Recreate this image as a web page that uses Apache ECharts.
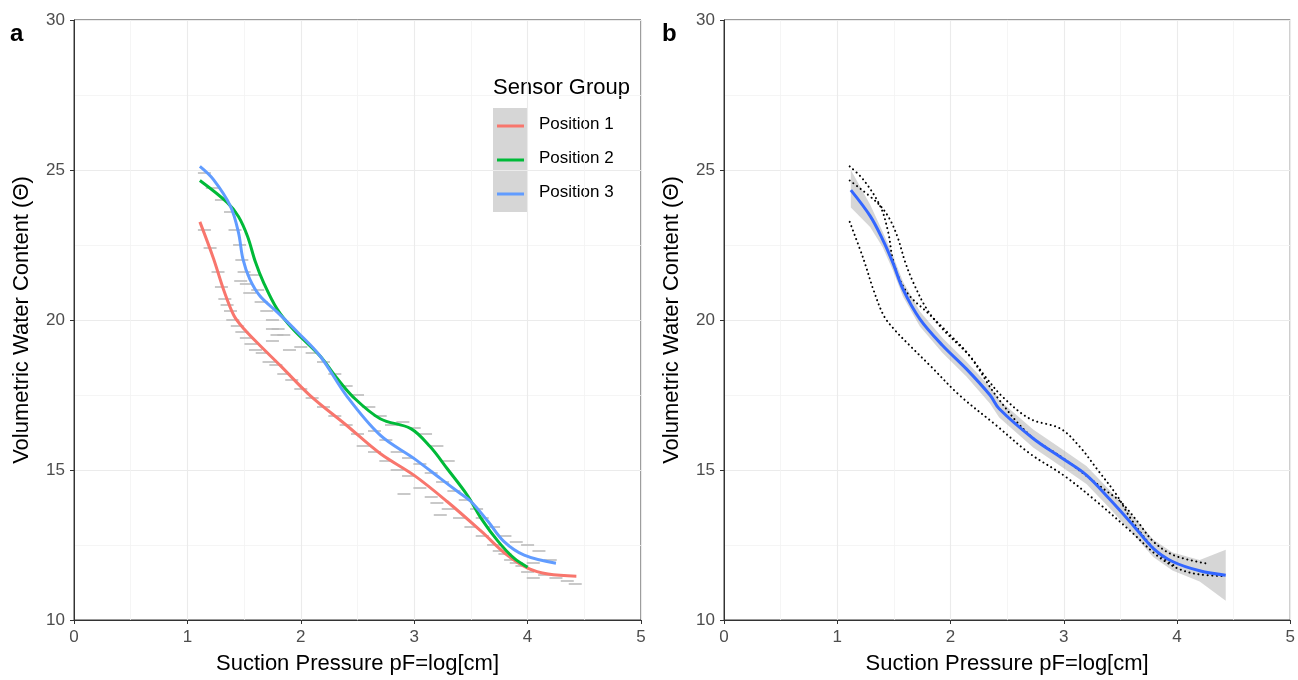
<!DOCTYPE html>
<html>
<head>
<meta charset="utf-8">
<script src="https://cdn.jsdelivr.net/npm/echarts@6/dist/echarts.min.js"></script>
<style>html,body{margin:0;padding:0;background:#fff}#c{width:1298px;height:680px}</style>
</head>
<body>
<div id="c"></div>
<script>
// ---- Data ----
const xTicks = [0, 1, 2, 3, 4, 5];
const yTicks = [10, 15, 20, 25, 30];
const seriesNames = ['Position 1', 'Position 2', 'Position 3'];

// Smoothed curves per sensor group
const p1X = [1.11,1.23,1.32,1.41,1.50,1.64,1.82,2.08,2.40,2.70,3.00,3.29,3.59,3.82,4.00,4.18,4.43];
const p1Y = [23.27,22.05,21.00,20.15,19.70,19.15,18.48,17.49,16.50,15.55,14.82,13.95,12.96,12.16,11.73,11.53,11.46];

const p2X = [1.11,1.35,1.45,1.53,1.60,1.67,1.79,1.93,2.17,2.31,2.46,2.70,2.97,3.14,3.29,3.47,3.59,3.74,3.88,4.00];
const p2Y = [24.65,23.92,23.45,22.79,21.93,21.26,20.37,19.70,18.80,18.10,17.44,16.71,16.38,15.78,15.05,14.15,13.39,12.62,12.06,11.76];

const p3X = [1.11,1.23,1.38,1.45,1.49,1.55,1.64,1.79,1.97,2.17,2.41,2.70,3.00,3.23,3.38,3.50,3.65,3.79,3.97,4.25];
const p3Y = [25.12,24.68,23.79,22.92,22.03,21.36,20.80,20.27,19.60,18.80,17.44,16.16,15.38,14.72,14.29,13.95,13.29,12.62,12.16,11.89];

// Raw measurements (grey marks)
const rawX = [1.15,1.20,1.27,1.30,1.33,1.35,1.38,1.40,1.44,1.48,1.52,1.56,1.60,1.66,1.72,1.78,1.85,1.92,2.00,2.10,2.20,2.30,2.40,2.50,2.55,2.65,2.75,2.85,2.95,3.05,3.15,3.20,3.30,3.40,3.50,3.60,3.70,3.80,3.90,4.00,4.05,4.15,4.25,4.35,4.42,
  1.15,1.22,1.30,1.38,1.42,1.46,1.48,1.50,1.52,1.55,1.58,1.62,1.65,1.70,1.75,1.80,1.85,1.75,1.90,2.00,2.10,2.20,2.30,2.40,2.50,2.60,2.70,2.80,2.90,3.00,3.10,3.20,3.30,2.65,2.75,2.85,2.95,3.05,3.15,3.25,3.35,3.45,3.55,3.60,3.70,3.80,3.90,4.00,4.10,4.20,3.75,3.85,3.95,4.05,
  1.47,1.75,1.79,2.91,3.23];
const rawY = [23.0,22.4,21.6,21.1,20.7,20.5,20.3,20.0,19.8,19.6,19.4,19.2,19.0,18.9,18.6,18.5,18.2,18.0,17.7,17.4,17.1,16.8,16.5,16.2,15.8,15.6,15.3,15.0,14.8,14.4,14.1,13.9,13.7,13.4,13.1,12.8,12.5,12.2,11.9,11.6,11.4,11.5,11.4,11.3,11.2,
  24.9,24.4,24.0,23.6,23.0,22.5,22.0,21.6,21.2,20.9,21.5,21.0,20.6,20.3,20.0,19.7,19.5,19.3,19.0,19.1,18.9,18.6,18.2,17.8,17.5,17.1,16.8,16.5,16.6,16.4,16.2,15.8,15.3,16.3,16.0,15.6,15.4,15.2,14.9,14.6,14.3,14.0,13.7,13.4,13.1,12.8,12.6,12.5,12.3,12.0,12.3,12.0,11.8,11.9,
  21.3,19.7,19.5,14.2,13.5];

// Overall fit with confidence band (panel b)
const fitX  = [1.12,1.29,1.40,1.49,1.58,1.73,1.93,2.14,2.35,2.43,2.73,2.99,3.20,3.40,3.61,3.79,3.96,4.20,4.43];
const fitY  = [24.33,23.47,22.69,21.92,21.03,20.03,19.15,18.37,17.49,17.04,16.05,15.38,14.83,14.05,13.17,12.39,11.95,11.64,11.49];
const fitHi = [25.00,23.85,22.95,22.17,21.28,20.28,19.40,18.62,17.77,17.33,16.35,15.68,15.13,14.35,13.47,12.68,12.25,12.00,12.34];
const fitLo = [23.75,23.10,22.43,21.67,20.78,19.78,18.90,18.12,17.21,16.75,15.75,15.08,14.53,13.75,12.87,12.10,11.65,11.28,10.64];

// ---- Build ----
const zip = (xs, ys) => xs.map((x, i) => [x, ys[i]]);
const FONT = 'Liberation Sans, Arial, sans-serif';
const colors = ['#F8766D', '#00BA38', '#619CFF'];

function xAxisCfg(gi) {
  return {
    gridIndex: gi, type: 'value', min: xTicks[0], max: xTicks[xTicks.length - 1], interval: 1,
    name: 'Suction Pressure pF=log[cm]', nameLocation: 'middle', nameGap: 33,
    nameTextStyle: { fontFamily: FONT, fontSize: 22, color: '#000' },
    axisLine: { show: true, onZero: false, lineStyle: { color: '#333', width: 1 } },
    axisTick: { show: true, length: 4, lineStyle: { color: '#333' } },
    axisLabel: { fontFamily: FONT, fontSize: 17, color: '#4d4d4d', margin: 9 },
    splitLine: { show: true, lineStyle: { color: '#ebebeb', width: 1.1 } },
    minorTick: { show: false, splitNumber: 2 },
    minorSplitLine: { show: true, lineStyle: { color: '#f3f3f3', width: 0.8 } }
  };
}
function yAxisCfg(gi) {
  return {
    gridIndex: gi, type: 'value', min: yTicks[0], max: yTicks[yTicks.length - 1], interval: 5,
    name: 'Volumetric Water Content (\u0398)', nameLocation: 'middle', nameGap: 41,
    nameTextStyle: { fontFamily: FONT, fontSize: 22, color: '#000' },
    axisLine: { show: true, onZero: false, lineStyle: { color: '#333', width: 1 } },
    axisTick: { show: true, length: 4, lineStyle: { color: '#333' } },
    axisLabel: { fontFamily: FONT, fontSize: 17, color: '#4d4d4d', margin: 9 },
    splitLine: { show: true, lineStyle: { color: '#ebebeb', width: 1.1 } },
    minorTick: { show: false, splitNumber: 2 },
    minorSplitLine: { show: true, lineStyle: { color: '#f3f3f3', width: 0.8 } }
  };
}

const curves = [zip(p1X, p1Y), zip(p2X, p2Y), zip(p3X, p3Y)];

const series = [];
series.push({
  type: 'scatter', xAxisIndex: 0, yAxisIndex: 0, data: zip(rawX, rawY),
  symbol: 'rect', symbolSize: [13, 2], itemStyle: { color: '#bbbbbb' }, silent: true, z: 2
});
curves.forEach((d, i) => series.push({
  type: 'line', name: seriesNames[i], xAxisIndex: 0, yAxisIndex: 0, data: d,
  showSymbol: false, smooth: 0.35, lineStyle: { color: colors[i], width: 3 }, z: 3
}));
series.push({
  type: 'custom', xAxisIndex: 1, yAxisIndex: 1, data: [[fitX[0], fitY[0]]], z: 2, silent: true,
  renderItem: function (params, api) {
    const pts = [];
    for (let i = 0; i < fitX.length; i++) pts.push(api.coord([fitX[i], fitHi[i]]));
    for (let i = fitX.length - 1; i >= 0; i--) pts.push(api.coord([fitX[i], fitLo[i]]));
    return { type: 'polygon', shape: { points: pts }, style: { fill: 'rgba(153,153,153,0.4)' } };
  }
});
curves.forEach((d, i) => series.push({
  type: 'line', xAxisIndex: 1, yAxisIndex: 1, data: d, showSymbol: false, smooth: 0.35,
  lineStyle: { color: '#000', width: 2, type: [0.1, 4.5], cap: 'round' }, z: 3, silent: true
}));
series.push({
  type: 'line', xAxisIndex: 1, yAxisIndex: 1, data: zip(fitX, fitY), showSymbol: false, smooth: 0.35,
  lineStyle: { color: '#3366FF', width: 3 }, z: 4
});

const legendItems = [];
legendItems.push({ type: 'text', left: 493, top: 77, style: { text: 'Sensor Group', fontFamily: FONT, fontSize: 22, fill: '#000' } });
legendItems.push({ type: 'rect', shape: { x: 493, y: 108, width: 35, height: 104 }, style: { fill: '#d6d6d6' } });
seriesNames.forEach((n, i) => {
  const cy = 126 + i * 34;
  legendItems.push({ type: 'line', shape: { x1: 497, y1: cy, x2: 524, y2: cy }, style: { stroke: colors[i], lineWidth: 3 } });
  legendItems.push({ type: 'text', left: 539, top: cy - 10, style: { text: n, fontFamily: FONT, fontSize: 17, fill: '#000' } });
});

const option = {
  animation: false,
  backgroundColor: '#fff',
  grid: [
    { left: 74, top: 20, width: 567, height: 602, show: true, borderColor: '#333', borderWidth: 1, backgroundColor: '#fff' },
    { left: 724, top: 20, width: 567, height: 602, show: true, borderColor: '#333', borderWidth: 1, backgroundColor: '#fff' }
  ],
  xAxis: [xAxisCfg(0), xAxisCfg(1)],
  yAxis: [yAxisCfg(0), yAxisCfg(1)],
  series: series,
  graphic: [
    { type: 'text', left: 10, top: 22, style: { text: 'a', fontFamily: FONT, fontSize: 24, fontWeight: 'bold', fill: '#000' } },
    { type: 'text', left: 662, top: 22, style: { text: 'b', fontFamily: FONT, fontSize: 24, fontWeight: 'bold', fill: '#000' } }
  ].concat(legendItems)
};

const chart = echarts.init(document.getElementById('c'), null, { renderer: 'canvas' });
chart.setOption(option);
</script>
</body>
</html>
